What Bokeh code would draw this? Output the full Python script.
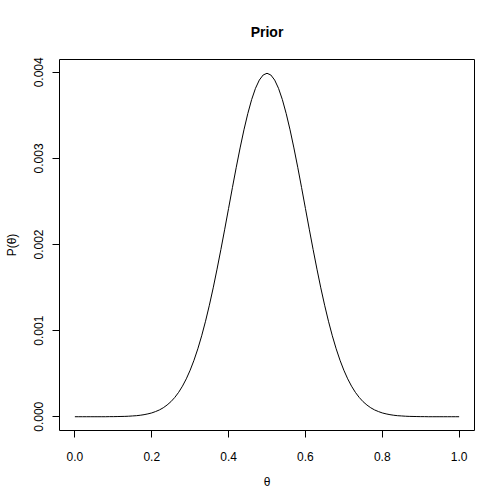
from bokeh.plotting import figure
from bokeh.models import Range1d, FixedTicker, PrintfTickFormatter
from bokeh.embed import file_html
from bokeh.resources import INLINE

theta = [0.00, 0.01, 0.02, 0.03, 0.04, 0.05, 0.06, 0.07, 0.08, 0.09,
         0.10, 0.11, 0.12, 0.13, 0.14, 0.15, 0.16, 0.17, 0.18, 0.19,
         0.20, 0.21, 0.22, 0.23, 0.24, 0.25, 0.26, 0.27, 0.28, 0.29,
         0.30, 0.31, 0.32, 0.33, 0.34, 0.35, 0.36, 0.37, 0.38, 0.39,
         0.40, 0.41, 0.42, 0.43, 0.44, 0.45, 0.46, 0.47, 0.48, 0.49,
         0.50, 0.51, 0.52, 0.53, 0.54, 0.55, 0.56, 0.57, 0.58, 0.59,
         0.60, 0.61, 0.62, 0.63, 0.64, 0.65, 0.66, 0.67, 0.68, 0.69,
         0.70, 0.71, 0.72, 0.73, 0.74, 0.75, 0.76, 0.77, 0.78, 0.79,
         0.80, 0.81, 0.82, 0.83, 0.84, 0.85, 0.86, 0.87, 0.88, 0.89,
         0.90, 0.91, 0.92, 0.93, 0.94, 0.95, 0.96, 0.97, 0.98, 0.99, 1.00]
prior = [0.0, 0.0, 0.0, 0.0, 0.0, 0.0, 0.0, 0.0, 0.0, 0.000001,
         0.000001, 0.000002, 0.000003, 0.000004, 0.000006, 0.000009, 0.000012, 0.000017, 0.000024, 0.000033,
         0.000044, 0.000060, 0.000079, 0.000104, 0.000136, 0.000175, 0.000224, 0.000283, 0.000355, 0.000440,
         0.000540, 0.000656, 0.000789, 0.000940, 0.001109, 0.001295, 0.001497, 0.001714, 0.001942, 0.002178,
         0.002419, 0.002661, 0.002897, 0.003122, 0.003332, 0.003520, 0.003683, 0.003814, 0.003910, 0.003969,
         0.003989,
         0.003969, 0.003910, 0.003814, 0.003683, 0.003520, 0.003332, 0.003122, 0.002897, 0.002661, 0.002419,
         0.002178, 0.001942, 0.001714, 0.001497, 0.001295, 0.001109, 0.000940, 0.000789, 0.000656, 0.000540,
         0.000440, 0.000355, 0.000283, 0.000224, 0.000175, 0.000136, 0.000104, 0.000079, 0.000060, 0.000044,
         0.000033, 0.000024, 0.000017, 0.000012, 0.000009, 0.000006, 0.000004, 0.000003, 0.000002, 0.000001,
         0.000001, 0.0, 0.0, 0.0, 0.0, 0.0, 0.0, 0.0, 0.0, 0.0]
x_ticks = [0.0, 0.2, 0.4, 0.6, 0.8, 1.0]
y_ticks = [0.000, 0.001, 0.002, 0.003, 0.004]

FONT = "Liberation Sans"

p = figure(frame_width=415, frame_height=371, output_backend="svg", toolbar_location=None,
           x_range=Range1d(-0.04, 1.04), y_range=Range1d(-0.00016, 0.004149),
           min_border_left=59, min_border_top=59, min_border_right=14, min_border_bottom=58,
           title="Prior")

p.line(theta, prior, line_color="black", line_width=1)

p.title.align = "center"
p.title.text_font = FONT
p.title.text_font_size = "14px"
p.title.text_font_style = "bold"
p.title.text_color = "black"
p.title.standoff = 39

p.xgrid.visible = False
p.ygrid.visible = False
p.outline_line_color = "black"
p.outline_line_width = 1
p.outline_line_alpha = 1
p.background_fill_color = "white"
p.border_fill_color = "white"

for ax in (p.xaxis[0], p.yaxis[0]):
    ax.axis_line_color = None
    ax.major_tick_in = 0
    ax.major_tick_out = 7
    ax.major_tick_line_color = "black"
    ax.minor_tick_line_color = None
    ax.major_label_text_font = FONT
    ax.major_label_text_font_size = "12px"
    ax.major_label_text_color = "black"
    ax.axis_label_text_font = FONT
    ax.axis_label_text_font_size = "12px"
    ax.axis_label_text_font_style = "normal"
    ax.axis_label_text_color = "black"

p.xaxis[0].ticker = FixedTicker(ticks=x_ticks)
p.yaxis[0].ticker = FixedTicker(ticks=y_ticks)
p.xaxis[0].formatter = PrintfTickFormatter(format="%.1f")
p.yaxis[0].formatter = PrintfTickFormatter(format="%.3f")
p.yaxis[0].major_label_orientation = "vertical"
p.xaxis[0].axis_label = "θ"
p.yaxis[0].axis_label = "P(θ)"
p.xaxis[0].major_label_standoff = 14
p.yaxis[0].major_label_standoff = 9
p.xaxis[0].axis_label_standoff = 11
p.yaxis[0].axis_label_standoff = 13

open("out.html", "w").write(file_html(p, INLINE))
